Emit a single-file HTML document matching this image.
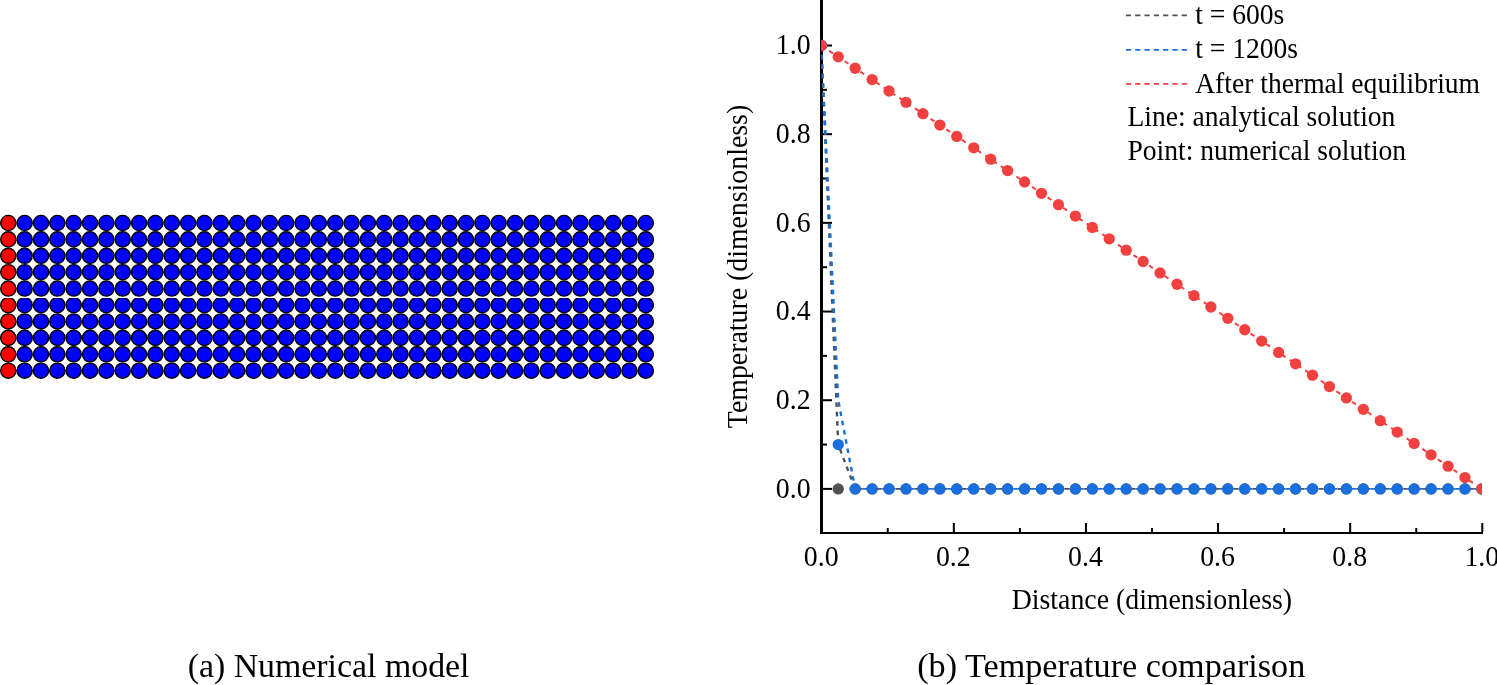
<!DOCTYPE html>
<html lang="en"><head><meta charset="utf-8"><title>Figure</title>
<style>html,body{margin:0;padding:0;background:#fff}svg{display:block}text{font-family:"Liberation Serif","Times New Roman",serif;fill:#000}</style>
</head><body>
<svg width="1497" height="685" viewBox="0 0 1497 685">
<rect width="1497" height="685" fill="#fff"/>
<g stroke="#000" stroke-width="1.4">
<circle cx="8.30" cy="223.00" r="7.6" fill="#ff0000"/>
<circle cx="24.65" cy="223.00" r="7.6" fill="#0000ff"/>
<circle cx="40.99" cy="223.00" r="7.6" fill="#0000ff"/>
<circle cx="57.34" cy="223.00" r="7.6" fill="#0000ff"/>
<circle cx="73.68" cy="223.00" r="7.6" fill="#0000ff"/>
<circle cx="90.03" cy="223.00" r="7.6" fill="#0000ff"/>
<circle cx="106.38" cy="223.00" r="7.6" fill="#0000ff"/>
<circle cx="122.72" cy="223.00" r="7.6" fill="#0000ff"/>
<circle cx="139.07" cy="223.00" r="7.6" fill="#0000ff"/>
<circle cx="155.42" cy="223.00" r="7.6" fill="#0000ff"/>
<circle cx="171.76" cy="223.00" r="7.6" fill="#0000ff"/>
<circle cx="188.11" cy="223.00" r="7.6" fill="#0000ff"/>
<circle cx="204.45" cy="223.00" r="7.6" fill="#0000ff"/>
<circle cx="220.80" cy="223.00" r="7.6" fill="#0000ff"/>
<circle cx="237.15" cy="223.00" r="7.6" fill="#0000ff"/>
<circle cx="253.49" cy="223.00" r="7.6" fill="#0000ff"/>
<circle cx="269.84" cy="223.00" r="7.6" fill="#0000ff"/>
<circle cx="286.18" cy="223.00" r="7.6" fill="#0000ff"/>
<circle cx="302.53" cy="223.00" r="7.6" fill="#0000ff"/>
<circle cx="318.88" cy="223.00" r="7.6" fill="#0000ff"/>
<circle cx="335.22" cy="223.00" r="7.6" fill="#0000ff"/>
<circle cx="351.57" cy="223.00" r="7.6" fill="#0000ff"/>
<circle cx="367.92" cy="223.00" r="7.6" fill="#0000ff"/>
<circle cx="384.26" cy="223.00" r="7.6" fill="#0000ff"/>
<circle cx="400.61" cy="223.00" r="7.6" fill="#0000ff"/>
<circle cx="416.95" cy="223.00" r="7.6" fill="#0000ff"/>
<circle cx="433.30" cy="223.00" r="7.6" fill="#0000ff"/>
<circle cx="449.65" cy="223.00" r="7.6" fill="#0000ff"/>
<circle cx="465.99" cy="223.00" r="7.6" fill="#0000ff"/>
<circle cx="482.34" cy="223.00" r="7.6" fill="#0000ff"/>
<circle cx="498.68" cy="223.00" r="7.6" fill="#0000ff"/>
<circle cx="515.03" cy="223.00" r="7.6" fill="#0000ff"/>
<circle cx="531.38" cy="223.00" r="7.6" fill="#0000ff"/>
<circle cx="547.72" cy="223.00" r="7.6" fill="#0000ff"/>
<circle cx="564.07" cy="223.00" r="7.6" fill="#0000ff"/>
<circle cx="580.42" cy="223.00" r="7.6" fill="#0000ff"/>
<circle cx="596.76" cy="223.00" r="7.6" fill="#0000ff"/>
<circle cx="613.11" cy="223.00" r="7.6" fill="#0000ff"/>
<circle cx="629.45" cy="223.00" r="7.6" fill="#0000ff"/>
<circle cx="645.80" cy="223.00" r="7.6" fill="#0000ff"/>
<circle cx="8.30" cy="239.41" r="7.6" fill="#ff0000"/>
<circle cx="24.65" cy="239.41" r="7.6" fill="#0000ff"/>
<circle cx="40.99" cy="239.41" r="7.6" fill="#0000ff"/>
<circle cx="57.34" cy="239.41" r="7.6" fill="#0000ff"/>
<circle cx="73.68" cy="239.41" r="7.6" fill="#0000ff"/>
<circle cx="90.03" cy="239.41" r="7.6" fill="#0000ff"/>
<circle cx="106.38" cy="239.41" r="7.6" fill="#0000ff"/>
<circle cx="122.72" cy="239.41" r="7.6" fill="#0000ff"/>
<circle cx="139.07" cy="239.41" r="7.6" fill="#0000ff"/>
<circle cx="155.42" cy="239.41" r="7.6" fill="#0000ff"/>
<circle cx="171.76" cy="239.41" r="7.6" fill="#0000ff"/>
<circle cx="188.11" cy="239.41" r="7.6" fill="#0000ff"/>
<circle cx="204.45" cy="239.41" r="7.6" fill="#0000ff"/>
<circle cx="220.80" cy="239.41" r="7.6" fill="#0000ff"/>
<circle cx="237.15" cy="239.41" r="7.6" fill="#0000ff"/>
<circle cx="253.49" cy="239.41" r="7.6" fill="#0000ff"/>
<circle cx="269.84" cy="239.41" r="7.6" fill="#0000ff"/>
<circle cx="286.18" cy="239.41" r="7.6" fill="#0000ff"/>
<circle cx="302.53" cy="239.41" r="7.6" fill="#0000ff"/>
<circle cx="318.88" cy="239.41" r="7.6" fill="#0000ff"/>
<circle cx="335.22" cy="239.41" r="7.6" fill="#0000ff"/>
<circle cx="351.57" cy="239.41" r="7.6" fill="#0000ff"/>
<circle cx="367.92" cy="239.41" r="7.6" fill="#0000ff"/>
<circle cx="384.26" cy="239.41" r="7.6" fill="#0000ff"/>
<circle cx="400.61" cy="239.41" r="7.6" fill="#0000ff"/>
<circle cx="416.95" cy="239.41" r="7.6" fill="#0000ff"/>
<circle cx="433.30" cy="239.41" r="7.6" fill="#0000ff"/>
<circle cx="449.65" cy="239.41" r="7.6" fill="#0000ff"/>
<circle cx="465.99" cy="239.41" r="7.6" fill="#0000ff"/>
<circle cx="482.34" cy="239.41" r="7.6" fill="#0000ff"/>
<circle cx="498.68" cy="239.41" r="7.6" fill="#0000ff"/>
<circle cx="515.03" cy="239.41" r="7.6" fill="#0000ff"/>
<circle cx="531.38" cy="239.41" r="7.6" fill="#0000ff"/>
<circle cx="547.72" cy="239.41" r="7.6" fill="#0000ff"/>
<circle cx="564.07" cy="239.41" r="7.6" fill="#0000ff"/>
<circle cx="580.42" cy="239.41" r="7.6" fill="#0000ff"/>
<circle cx="596.76" cy="239.41" r="7.6" fill="#0000ff"/>
<circle cx="613.11" cy="239.41" r="7.6" fill="#0000ff"/>
<circle cx="629.45" cy="239.41" r="7.6" fill="#0000ff"/>
<circle cx="645.80" cy="239.41" r="7.6" fill="#0000ff"/>
<circle cx="8.30" cy="255.82" r="7.6" fill="#ff0000"/>
<circle cx="24.65" cy="255.82" r="7.6" fill="#0000ff"/>
<circle cx="40.99" cy="255.82" r="7.6" fill="#0000ff"/>
<circle cx="57.34" cy="255.82" r="7.6" fill="#0000ff"/>
<circle cx="73.68" cy="255.82" r="7.6" fill="#0000ff"/>
<circle cx="90.03" cy="255.82" r="7.6" fill="#0000ff"/>
<circle cx="106.38" cy="255.82" r="7.6" fill="#0000ff"/>
<circle cx="122.72" cy="255.82" r="7.6" fill="#0000ff"/>
<circle cx="139.07" cy="255.82" r="7.6" fill="#0000ff"/>
<circle cx="155.42" cy="255.82" r="7.6" fill="#0000ff"/>
<circle cx="171.76" cy="255.82" r="7.6" fill="#0000ff"/>
<circle cx="188.11" cy="255.82" r="7.6" fill="#0000ff"/>
<circle cx="204.45" cy="255.82" r="7.6" fill="#0000ff"/>
<circle cx="220.80" cy="255.82" r="7.6" fill="#0000ff"/>
<circle cx="237.15" cy="255.82" r="7.6" fill="#0000ff"/>
<circle cx="253.49" cy="255.82" r="7.6" fill="#0000ff"/>
<circle cx="269.84" cy="255.82" r="7.6" fill="#0000ff"/>
<circle cx="286.18" cy="255.82" r="7.6" fill="#0000ff"/>
<circle cx="302.53" cy="255.82" r="7.6" fill="#0000ff"/>
<circle cx="318.88" cy="255.82" r="7.6" fill="#0000ff"/>
<circle cx="335.22" cy="255.82" r="7.6" fill="#0000ff"/>
<circle cx="351.57" cy="255.82" r="7.6" fill="#0000ff"/>
<circle cx="367.92" cy="255.82" r="7.6" fill="#0000ff"/>
<circle cx="384.26" cy="255.82" r="7.6" fill="#0000ff"/>
<circle cx="400.61" cy="255.82" r="7.6" fill="#0000ff"/>
<circle cx="416.95" cy="255.82" r="7.6" fill="#0000ff"/>
<circle cx="433.30" cy="255.82" r="7.6" fill="#0000ff"/>
<circle cx="449.65" cy="255.82" r="7.6" fill="#0000ff"/>
<circle cx="465.99" cy="255.82" r="7.6" fill="#0000ff"/>
<circle cx="482.34" cy="255.82" r="7.6" fill="#0000ff"/>
<circle cx="498.68" cy="255.82" r="7.6" fill="#0000ff"/>
<circle cx="515.03" cy="255.82" r="7.6" fill="#0000ff"/>
<circle cx="531.38" cy="255.82" r="7.6" fill="#0000ff"/>
<circle cx="547.72" cy="255.82" r="7.6" fill="#0000ff"/>
<circle cx="564.07" cy="255.82" r="7.6" fill="#0000ff"/>
<circle cx="580.42" cy="255.82" r="7.6" fill="#0000ff"/>
<circle cx="596.76" cy="255.82" r="7.6" fill="#0000ff"/>
<circle cx="613.11" cy="255.82" r="7.6" fill="#0000ff"/>
<circle cx="629.45" cy="255.82" r="7.6" fill="#0000ff"/>
<circle cx="645.80" cy="255.82" r="7.6" fill="#0000ff"/>
<circle cx="8.30" cy="272.23" r="7.6" fill="#ff0000"/>
<circle cx="24.65" cy="272.23" r="7.6" fill="#0000ff"/>
<circle cx="40.99" cy="272.23" r="7.6" fill="#0000ff"/>
<circle cx="57.34" cy="272.23" r="7.6" fill="#0000ff"/>
<circle cx="73.68" cy="272.23" r="7.6" fill="#0000ff"/>
<circle cx="90.03" cy="272.23" r="7.6" fill="#0000ff"/>
<circle cx="106.38" cy="272.23" r="7.6" fill="#0000ff"/>
<circle cx="122.72" cy="272.23" r="7.6" fill="#0000ff"/>
<circle cx="139.07" cy="272.23" r="7.6" fill="#0000ff"/>
<circle cx="155.42" cy="272.23" r="7.6" fill="#0000ff"/>
<circle cx="171.76" cy="272.23" r="7.6" fill="#0000ff"/>
<circle cx="188.11" cy="272.23" r="7.6" fill="#0000ff"/>
<circle cx="204.45" cy="272.23" r="7.6" fill="#0000ff"/>
<circle cx="220.80" cy="272.23" r="7.6" fill="#0000ff"/>
<circle cx="237.15" cy="272.23" r="7.6" fill="#0000ff"/>
<circle cx="253.49" cy="272.23" r="7.6" fill="#0000ff"/>
<circle cx="269.84" cy="272.23" r="7.6" fill="#0000ff"/>
<circle cx="286.18" cy="272.23" r="7.6" fill="#0000ff"/>
<circle cx="302.53" cy="272.23" r="7.6" fill="#0000ff"/>
<circle cx="318.88" cy="272.23" r="7.6" fill="#0000ff"/>
<circle cx="335.22" cy="272.23" r="7.6" fill="#0000ff"/>
<circle cx="351.57" cy="272.23" r="7.6" fill="#0000ff"/>
<circle cx="367.92" cy="272.23" r="7.6" fill="#0000ff"/>
<circle cx="384.26" cy="272.23" r="7.6" fill="#0000ff"/>
<circle cx="400.61" cy="272.23" r="7.6" fill="#0000ff"/>
<circle cx="416.95" cy="272.23" r="7.6" fill="#0000ff"/>
<circle cx="433.30" cy="272.23" r="7.6" fill="#0000ff"/>
<circle cx="449.65" cy="272.23" r="7.6" fill="#0000ff"/>
<circle cx="465.99" cy="272.23" r="7.6" fill="#0000ff"/>
<circle cx="482.34" cy="272.23" r="7.6" fill="#0000ff"/>
<circle cx="498.68" cy="272.23" r="7.6" fill="#0000ff"/>
<circle cx="515.03" cy="272.23" r="7.6" fill="#0000ff"/>
<circle cx="531.38" cy="272.23" r="7.6" fill="#0000ff"/>
<circle cx="547.72" cy="272.23" r="7.6" fill="#0000ff"/>
<circle cx="564.07" cy="272.23" r="7.6" fill="#0000ff"/>
<circle cx="580.42" cy="272.23" r="7.6" fill="#0000ff"/>
<circle cx="596.76" cy="272.23" r="7.6" fill="#0000ff"/>
<circle cx="613.11" cy="272.23" r="7.6" fill="#0000ff"/>
<circle cx="629.45" cy="272.23" r="7.6" fill="#0000ff"/>
<circle cx="645.80" cy="272.23" r="7.6" fill="#0000ff"/>
<circle cx="8.30" cy="288.64" r="7.6" fill="#ff0000"/>
<circle cx="24.65" cy="288.64" r="7.6" fill="#0000ff"/>
<circle cx="40.99" cy="288.64" r="7.6" fill="#0000ff"/>
<circle cx="57.34" cy="288.64" r="7.6" fill="#0000ff"/>
<circle cx="73.68" cy="288.64" r="7.6" fill="#0000ff"/>
<circle cx="90.03" cy="288.64" r="7.6" fill="#0000ff"/>
<circle cx="106.38" cy="288.64" r="7.6" fill="#0000ff"/>
<circle cx="122.72" cy="288.64" r="7.6" fill="#0000ff"/>
<circle cx="139.07" cy="288.64" r="7.6" fill="#0000ff"/>
<circle cx="155.42" cy="288.64" r="7.6" fill="#0000ff"/>
<circle cx="171.76" cy="288.64" r="7.6" fill="#0000ff"/>
<circle cx="188.11" cy="288.64" r="7.6" fill="#0000ff"/>
<circle cx="204.45" cy="288.64" r="7.6" fill="#0000ff"/>
<circle cx="220.80" cy="288.64" r="7.6" fill="#0000ff"/>
<circle cx="237.15" cy="288.64" r="7.6" fill="#0000ff"/>
<circle cx="253.49" cy="288.64" r="7.6" fill="#0000ff"/>
<circle cx="269.84" cy="288.64" r="7.6" fill="#0000ff"/>
<circle cx="286.18" cy="288.64" r="7.6" fill="#0000ff"/>
<circle cx="302.53" cy="288.64" r="7.6" fill="#0000ff"/>
<circle cx="318.88" cy="288.64" r="7.6" fill="#0000ff"/>
<circle cx="335.22" cy="288.64" r="7.6" fill="#0000ff"/>
<circle cx="351.57" cy="288.64" r="7.6" fill="#0000ff"/>
<circle cx="367.92" cy="288.64" r="7.6" fill="#0000ff"/>
<circle cx="384.26" cy="288.64" r="7.6" fill="#0000ff"/>
<circle cx="400.61" cy="288.64" r="7.6" fill="#0000ff"/>
<circle cx="416.95" cy="288.64" r="7.6" fill="#0000ff"/>
<circle cx="433.30" cy="288.64" r="7.6" fill="#0000ff"/>
<circle cx="449.65" cy="288.64" r="7.6" fill="#0000ff"/>
<circle cx="465.99" cy="288.64" r="7.6" fill="#0000ff"/>
<circle cx="482.34" cy="288.64" r="7.6" fill="#0000ff"/>
<circle cx="498.68" cy="288.64" r="7.6" fill="#0000ff"/>
<circle cx="515.03" cy="288.64" r="7.6" fill="#0000ff"/>
<circle cx="531.38" cy="288.64" r="7.6" fill="#0000ff"/>
<circle cx="547.72" cy="288.64" r="7.6" fill="#0000ff"/>
<circle cx="564.07" cy="288.64" r="7.6" fill="#0000ff"/>
<circle cx="580.42" cy="288.64" r="7.6" fill="#0000ff"/>
<circle cx="596.76" cy="288.64" r="7.6" fill="#0000ff"/>
<circle cx="613.11" cy="288.64" r="7.6" fill="#0000ff"/>
<circle cx="629.45" cy="288.64" r="7.6" fill="#0000ff"/>
<circle cx="645.80" cy="288.64" r="7.6" fill="#0000ff"/>
<circle cx="8.30" cy="305.06" r="7.6" fill="#ff0000"/>
<circle cx="24.65" cy="305.06" r="7.6" fill="#0000ff"/>
<circle cx="40.99" cy="305.06" r="7.6" fill="#0000ff"/>
<circle cx="57.34" cy="305.06" r="7.6" fill="#0000ff"/>
<circle cx="73.68" cy="305.06" r="7.6" fill="#0000ff"/>
<circle cx="90.03" cy="305.06" r="7.6" fill="#0000ff"/>
<circle cx="106.38" cy="305.06" r="7.6" fill="#0000ff"/>
<circle cx="122.72" cy="305.06" r="7.6" fill="#0000ff"/>
<circle cx="139.07" cy="305.06" r="7.6" fill="#0000ff"/>
<circle cx="155.42" cy="305.06" r="7.6" fill="#0000ff"/>
<circle cx="171.76" cy="305.06" r="7.6" fill="#0000ff"/>
<circle cx="188.11" cy="305.06" r="7.6" fill="#0000ff"/>
<circle cx="204.45" cy="305.06" r="7.6" fill="#0000ff"/>
<circle cx="220.80" cy="305.06" r="7.6" fill="#0000ff"/>
<circle cx="237.15" cy="305.06" r="7.6" fill="#0000ff"/>
<circle cx="253.49" cy="305.06" r="7.6" fill="#0000ff"/>
<circle cx="269.84" cy="305.06" r="7.6" fill="#0000ff"/>
<circle cx="286.18" cy="305.06" r="7.6" fill="#0000ff"/>
<circle cx="302.53" cy="305.06" r="7.6" fill="#0000ff"/>
<circle cx="318.88" cy="305.06" r="7.6" fill="#0000ff"/>
<circle cx="335.22" cy="305.06" r="7.6" fill="#0000ff"/>
<circle cx="351.57" cy="305.06" r="7.6" fill="#0000ff"/>
<circle cx="367.92" cy="305.06" r="7.6" fill="#0000ff"/>
<circle cx="384.26" cy="305.06" r="7.6" fill="#0000ff"/>
<circle cx="400.61" cy="305.06" r="7.6" fill="#0000ff"/>
<circle cx="416.95" cy="305.06" r="7.6" fill="#0000ff"/>
<circle cx="433.30" cy="305.06" r="7.6" fill="#0000ff"/>
<circle cx="449.65" cy="305.06" r="7.6" fill="#0000ff"/>
<circle cx="465.99" cy="305.06" r="7.6" fill="#0000ff"/>
<circle cx="482.34" cy="305.06" r="7.6" fill="#0000ff"/>
<circle cx="498.68" cy="305.06" r="7.6" fill="#0000ff"/>
<circle cx="515.03" cy="305.06" r="7.6" fill="#0000ff"/>
<circle cx="531.38" cy="305.06" r="7.6" fill="#0000ff"/>
<circle cx="547.72" cy="305.06" r="7.6" fill="#0000ff"/>
<circle cx="564.07" cy="305.06" r="7.6" fill="#0000ff"/>
<circle cx="580.42" cy="305.06" r="7.6" fill="#0000ff"/>
<circle cx="596.76" cy="305.06" r="7.6" fill="#0000ff"/>
<circle cx="613.11" cy="305.06" r="7.6" fill="#0000ff"/>
<circle cx="629.45" cy="305.06" r="7.6" fill="#0000ff"/>
<circle cx="645.80" cy="305.06" r="7.6" fill="#0000ff"/>
<circle cx="8.30" cy="321.47" r="7.6" fill="#ff0000"/>
<circle cx="24.65" cy="321.47" r="7.6" fill="#0000ff"/>
<circle cx="40.99" cy="321.47" r="7.6" fill="#0000ff"/>
<circle cx="57.34" cy="321.47" r="7.6" fill="#0000ff"/>
<circle cx="73.68" cy="321.47" r="7.6" fill="#0000ff"/>
<circle cx="90.03" cy="321.47" r="7.6" fill="#0000ff"/>
<circle cx="106.38" cy="321.47" r="7.6" fill="#0000ff"/>
<circle cx="122.72" cy="321.47" r="7.6" fill="#0000ff"/>
<circle cx="139.07" cy="321.47" r="7.6" fill="#0000ff"/>
<circle cx="155.42" cy="321.47" r="7.6" fill="#0000ff"/>
<circle cx="171.76" cy="321.47" r="7.6" fill="#0000ff"/>
<circle cx="188.11" cy="321.47" r="7.6" fill="#0000ff"/>
<circle cx="204.45" cy="321.47" r="7.6" fill="#0000ff"/>
<circle cx="220.80" cy="321.47" r="7.6" fill="#0000ff"/>
<circle cx="237.15" cy="321.47" r="7.6" fill="#0000ff"/>
<circle cx="253.49" cy="321.47" r="7.6" fill="#0000ff"/>
<circle cx="269.84" cy="321.47" r="7.6" fill="#0000ff"/>
<circle cx="286.18" cy="321.47" r="7.6" fill="#0000ff"/>
<circle cx="302.53" cy="321.47" r="7.6" fill="#0000ff"/>
<circle cx="318.88" cy="321.47" r="7.6" fill="#0000ff"/>
<circle cx="335.22" cy="321.47" r="7.6" fill="#0000ff"/>
<circle cx="351.57" cy="321.47" r="7.6" fill="#0000ff"/>
<circle cx="367.92" cy="321.47" r="7.6" fill="#0000ff"/>
<circle cx="384.26" cy="321.47" r="7.6" fill="#0000ff"/>
<circle cx="400.61" cy="321.47" r="7.6" fill="#0000ff"/>
<circle cx="416.95" cy="321.47" r="7.6" fill="#0000ff"/>
<circle cx="433.30" cy="321.47" r="7.6" fill="#0000ff"/>
<circle cx="449.65" cy="321.47" r="7.6" fill="#0000ff"/>
<circle cx="465.99" cy="321.47" r="7.6" fill="#0000ff"/>
<circle cx="482.34" cy="321.47" r="7.6" fill="#0000ff"/>
<circle cx="498.68" cy="321.47" r="7.6" fill="#0000ff"/>
<circle cx="515.03" cy="321.47" r="7.6" fill="#0000ff"/>
<circle cx="531.38" cy="321.47" r="7.6" fill="#0000ff"/>
<circle cx="547.72" cy="321.47" r="7.6" fill="#0000ff"/>
<circle cx="564.07" cy="321.47" r="7.6" fill="#0000ff"/>
<circle cx="580.42" cy="321.47" r="7.6" fill="#0000ff"/>
<circle cx="596.76" cy="321.47" r="7.6" fill="#0000ff"/>
<circle cx="613.11" cy="321.47" r="7.6" fill="#0000ff"/>
<circle cx="629.45" cy="321.47" r="7.6" fill="#0000ff"/>
<circle cx="645.80" cy="321.47" r="7.6" fill="#0000ff"/>
<circle cx="8.30" cy="337.88" r="7.6" fill="#ff0000"/>
<circle cx="24.65" cy="337.88" r="7.6" fill="#0000ff"/>
<circle cx="40.99" cy="337.88" r="7.6" fill="#0000ff"/>
<circle cx="57.34" cy="337.88" r="7.6" fill="#0000ff"/>
<circle cx="73.68" cy="337.88" r="7.6" fill="#0000ff"/>
<circle cx="90.03" cy="337.88" r="7.6" fill="#0000ff"/>
<circle cx="106.38" cy="337.88" r="7.6" fill="#0000ff"/>
<circle cx="122.72" cy="337.88" r="7.6" fill="#0000ff"/>
<circle cx="139.07" cy="337.88" r="7.6" fill="#0000ff"/>
<circle cx="155.42" cy="337.88" r="7.6" fill="#0000ff"/>
<circle cx="171.76" cy="337.88" r="7.6" fill="#0000ff"/>
<circle cx="188.11" cy="337.88" r="7.6" fill="#0000ff"/>
<circle cx="204.45" cy="337.88" r="7.6" fill="#0000ff"/>
<circle cx="220.80" cy="337.88" r="7.6" fill="#0000ff"/>
<circle cx="237.15" cy="337.88" r="7.6" fill="#0000ff"/>
<circle cx="253.49" cy="337.88" r="7.6" fill="#0000ff"/>
<circle cx="269.84" cy="337.88" r="7.6" fill="#0000ff"/>
<circle cx="286.18" cy="337.88" r="7.6" fill="#0000ff"/>
<circle cx="302.53" cy="337.88" r="7.6" fill="#0000ff"/>
<circle cx="318.88" cy="337.88" r="7.6" fill="#0000ff"/>
<circle cx="335.22" cy="337.88" r="7.6" fill="#0000ff"/>
<circle cx="351.57" cy="337.88" r="7.6" fill="#0000ff"/>
<circle cx="367.92" cy="337.88" r="7.6" fill="#0000ff"/>
<circle cx="384.26" cy="337.88" r="7.6" fill="#0000ff"/>
<circle cx="400.61" cy="337.88" r="7.6" fill="#0000ff"/>
<circle cx="416.95" cy="337.88" r="7.6" fill="#0000ff"/>
<circle cx="433.30" cy="337.88" r="7.6" fill="#0000ff"/>
<circle cx="449.65" cy="337.88" r="7.6" fill="#0000ff"/>
<circle cx="465.99" cy="337.88" r="7.6" fill="#0000ff"/>
<circle cx="482.34" cy="337.88" r="7.6" fill="#0000ff"/>
<circle cx="498.68" cy="337.88" r="7.6" fill="#0000ff"/>
<circle cx="515.03" cy="337.88" r="7.6" fill="#0000ff"/>
<circle cx="531.38" cy="337.88" r="7.6" fill="#0000ff"/>
<circle cx="547.72" cy="337.88" r="7.6" fill="#0000ff"/>
<circle cx="564.07" cy="337.88" r="7.6" fill="#0000ff"/>
<circle cx="580.42" cy="337.88" r="7.6" fill="#0000ff"/>
<circle cx="596.76" cy="337.88" r="7.6" fill="#0000ff"/>
<circle cx="613.11" cy="337.88" r="7.6" fill="#0000ff"/>
<circle cx="629.45" cy="337.88" r="7.6" fill="#0000ff"/>
<circle cx="645.80" cy="337.88" r="7.6" fill="#0000ff"/>
<circle cx="8.30" cy="354.29" r="7.6" fill="#ff0000"/>
<circle cx="24.65" cy="354.29" r="7.6" fill="#0000ff"/>
<circle cx="40.99" cy="354.29" r="7.6" fill="#0000ff"/>
<circle cx="57.34" cy="354.29" r="7.6" fill="#0000ff"/>
<circle cx="73.68" cy="354.29" r="7.6" fill="#0000ff"/>
<circle cx="90.03" cy="354.29" r="7.6" fill="#0000ff"/>
<circle cx="106.38" cy="354.29" r="7.6" fill="#0000ff"/>
<circle cx="122.72" cy="354.29" r="7.6" fill="#0000ff"/>
<circle cx="139.07" cy="354.29" r="7.6" fill="#0000ff"/>
<circle cx="155.42" cy="354.29" r="7.6" fill="#0000ff"/>
<circle cx="171.76" cy="354.29" r="7.6" fill="#0000ff"/>
<circle cx="188.11" cy="354.29" r="7.6" fill="#0000ff"/>
<circle cx="204.45" cy="354.29" r="7.6" fill="#0000ff"/>
<circle cx="220.80" cy="354.29" r="7.6" fill="#0000ff"/>
<circle cx="237.15" cy="354.29" r="7.6" fill="#0000ff"/>
<circle cx="253.49" cy="354.29" r="7.6" fill="#0000ff"/>
<circle cx="269.84" cy="354.29" r="7.6" fill="#0000ff"/>
<circle cx="286.18" cy="354.29" r="7.6" fill="#0000ff"/>
<circle cx="302.53" cy="354.29" r="7.6" fill="#0000ff"/>
<circle cx="318.88" cy="354.29" r="7.6" fill="#0000ff"/>
<circle cx="335.22" cy="354.29" r="7.6" fill="#0000ff"/>
<circle cx="351.57" cy="354.29" r="7.6" fill="#0000ff"/>
<circle cx="367.92" cy="354.29" r="7.6" fill="#0000ff"/>
<circle cx="384.26" cy="354.29" r="7.6" fill="#0000ff"/>
<circle cx="400.61" cy="354.29" r="7.6" fill="#0000ff"/>
<circle cx="416.95" cy="354.29" r="7.6" fill="#0000ff"/>
<circle cx="433.30" cy="354.29" r="7.6" fill="#0000ff"/>
<circle cx="449.65" cy="354.29" r="7.6" fill="#0000ff"/>
<circle cx="465.99" cy="354.29" r="7.6" fill="#0000ff"/>
<circle cx="482.34" cy="354.29" r="7.6" fill="#0000ff"/>
<circle cx="498.68" cy="354.29" r="7.6" fill="#0000ff"/>
<circle cx="515.03" cy="354.29" r="7.6" fill="#0000ff"/>
<circle cx="531.38" cy="354.29" r="7.6" fill="#0000ff"/>
<circle cx="547.72" cy="354.29" r="7.6" fill="#0000ff"/>
<circle cx="564.07" cy="354.29" r="7.6" fill="#0000ff"/>
<circle cx="580.42" cy="354.29" r="7.6" fill="#0000ff"/>
<circle cx="596.76" cy="354.29" r="7.6" fill="#0000ff"/>
<circle cx="613.11" cy="354.29" r="7.6" fill="#0000ff"/>
<circle cx="629.45" cy="354.29" r="7.6" fill="#0000ff"/>
<circle cx="645.80" cy="354.29" r="7.6" fill="#0000ff"/>
<circle cx="8.30" cy="370.70" r="7.6" fill="#ff0000"/>
<circle cx="24.65" cy="370.70" r="7.6" fill="#0000ff"/>
<circle cx="40.99" cy="370.70" r="7.6" fill="#0000ff"/>
<circle cx="57.34" cy="370.70" r="7.6" fill="#0000ff"/>
<circle cx="73.68" cy="370.70" r="7.6" fill="#0000ff"/>
<circle cx="90.03" cy="370.70" r="7.6" fill="#0000ff"/>
<circle cx="106.38" cy="370.70" r="7.6" fill="#0000ff"/>
<circle cx="122.72" cy="370.70" r="7.6" fill="#0000ff"/>
<circle cx="139.07" cy="370.70" r="7.6" fill="#0000ff"/>
<circle cx="155.42" cy="370.70" r="7.6" fill="#0000ff"/>
<circle cx="171.76" cy="370.70" r="7.6" fill="#0000ff"/>
<circle cx="188.11" cy="370.70" r="7.6" fill="#0000ff"/>
<circle cx="204.45" cy="370.70" r="7.6" fill="#0000ff"/>
<circle cx="220.80" cy="370.70" r="7.6" fill="#0000ff"/>
<circle cx="237.15" cy="370.70" r="7.6" fill="#0000ff"/>
<circle cx="253.49" cy="370.70" r="7.6" fill="#0000ff"/>
<circle cx="269.84" cy="370.70" r="7.6" fill="#0000ff"/>
<circle cx="286.18" cy="370.70" r="7.6" fill="#0000ff"/>
<circle cx="302.53" cy="370.70" r="7.6" fill="#0000ff"/>
<circle cx="318.88" cy="370.70" r="7.6" fill="#0000ff"/>
<circle cx="335.22" cy="370.70" r="7.6" fill="#0000ff"/>
<circle cx="351.57" cy="370.70" r="7.6" fill="#0000ff"/>
<circle cx="367.92" cy="370.70" r="7.6" fill="#0000ff"/>
<circle cx="384.26" cy="370.70" r="7.6" fill="#0000ff"/>
<circle cx="400.61" cy="370.70" r="7.6" fill="#0000ff"/>
<circle cx="416.95" cy="370.70" r="7.6" fill="#0000ff"/>
<circle cx="433.30" cy="370.70" r="7.6" fill="#0000ff"/>
<circle cx="449.65" cy="370.70" r="7.6" fill="#0000ff"/>
<circle cx="465.99" cy="370.70" r="7.6" fill="#0000ff"/>
<circle cx="482.34" cy="370.70" r="7.6" fill="#0000ff"/>
<circle cx="498.68" cy="370.70" r="7.6" fill="#0000ff"/>
<circle cx="515.03" cy="370.70" r="7.6" fill="#0000ff"/>
<circle cx="531.38" cy="370.70" r="7.6" fill="#0000ff"/>
<circle cx="547.72" cy="370.70" r="7.6" fill="#0000ff"/>
<circle cx="564.07" cy="370.70" r="7.6" fill="#0000ff"/>
<circle cx="580.42" cy="370.70" r="7.6" fill="#0000ff"/>
<circle cx="596.76" cy="370.70" r="7.6" fill="#0000ff"/>
<circle cx="613.11" cy="370.70" r="7.6" fill="#0000ff"/>
<circle cx="629.45" cy="370.70" r="7.6" fill="#0000ff"/>
<circle cx="645.80" cy="370.70" r="7.6" fill="#0000ff"/>
</g>
<line x1="0" x2="654" y1="297.3" y2="297.3" stroke="#fff" stroke-width="1.3"/>
<text x="187.7" y="677" font-size="33.85">(a) Numerical model</text>
<g fill="#000" shape-rendering="crispEdges">
<rect x="820" y="0" width="3" height="534"/>
<rect x="820" y="532" width="663" height="2"/>
<rect x="823" y="487.90" width="9" height="2" shape-rendering="auto"/>
<rect x="823" y="443.56" width="4" height="2" shape-rendering="auto"/>
<rect x="886.76" y="528" width="2" height="4" shape-rendering="auto"/>
<rect x="823" y="399.22" width="9" height="2" shape-rendering="auto"/>
<rect x="952.82" y="523" width="2" height="9" shape-rendering="auto"/>
<rect x="823" y="354.88" width="4" height="2" shape-rendering="auto"/>
<rect x="1018.88" y="528" width="2" height="4" shape-rendering="auto"/>
<rect x="823" y="310.54" width="9" height="2" shape-rendering="auto"/>
<rect x="1084.94" y="523" width="2" height="9" shape-rendering="auto"/>
<rect x="823" y="266.20" width="4" height="2" shape-rendering="auto"/>
<rect x="1151.00" y="528" width="2" height="4" shape-rendering="auto"/>
<rect x="823" y="221.86" width="9" height="2" shape-rendering="auto"/>
<rect x="1217.06" y="523" width="2" height="9" shape-rendering="auto"/>
<rect x="823" y="177.52" width="4" height="2" shape-rendering="auto"/>
<rect x="1283.12" y="528" width="2" height="4" shape-rendering="auto"/>
<rect x="823" y="133.18" width="9" height="2" shape-rendering="auto"/>
<rect x="1349.18" y="523" width="2" height="9" shape-rendering="auto"/>
<rect x="823" y="88.84" width="4" height="2" shape-rendering="auto"/>
<rect x="1415.24" y="528" width="2" height="4" shape-rendering="auto"/>
<rect x="823" y="44.50" width="9" height="2" shape-rendering="auto"/>
<rect x="1481.30" y="523" width="2" height="9" shape-rendering="auto"/>
</g>
<g font-size="29.6">
<text transform="translate(810.6 497.60) scale(0.94 1)" text-anchor="end">0.0</text>
<text transform="translate(821.20 565.8) scale(0.94 1)" text-anchor="middle">0.0</text>
<text transform="translate(810.6 408.92) scale(0.94 1)" text-anchor="end">0.2</text>
<text transform="translate(953.32 565.8) scale(0.94 1)" text-anchor="middle">0.2</text>
<text transform="translate(810.6 320.24) scale(0.94 1)" text-anchor="end">0.4</text>
<text transform="translate(1085.44 565.8) scale(0.94 1)" text-anchor="middle">0.4</text>
<text transform="translate(810.6 231.56) scale(0.94 1)" text-anchor="end">0.6</text>
<text transform="translate(1217.56 565.8) scale(0.94 1)" text-anchor="middle">0.6</text>
<text transform="translate(810.6 142.88) scale(0.94 1)" text-anchor="end">0.8</text>
<text transform="translate(1349.68 565.8) scale(0.94 1)" text-anchor="middle">0.8</text>
<text transform="translate(810.6 54.20) scale(0.94 1)" text-anchor="end">1.0</text>
<text transform="translate(1481.80 565.8) scale(0.94 1)" text-anchor="middle">1.0</text>
<text transform="translate(1151.9 609) scale(0.96 1)" font-size="29" text-anchor="middle">Distance (dimensionless)</text>
<text transform="translate(747.2 266.5) rotate(-90) scale(0.96 1)" font-size="29" text-anchor="middle">Temperature (dimensionless)</text>
</g>
<clipPath id="pc"><rect x="821.30" y="0" width="660.60" height="533.24"/></clipPath>
<g clip-path="url(#pc)">
<path d="M821.30 45.50L838.24 444.56L855.18 488.90" fill="none" stroke="#515151" stroke-width="2.4" stroke-dasharray="4.6 4.8" stroke-dashoffset="0"/>
<path d="M855.18 488.90L872.12 488.90L889.05 488.90L905.99 488.90L922.93 488.90L939.87 488.90L956.81 488.90L973.75 488.90L990.68 488.90L1007.62 488.90L1024.56 488.90L1041.50 488.90L1058.44 488.90L1075.38 488.90L1092.32 488.90L1109.25 488.90L1126.19 488.90L1143.13 488.90L1160.07 488.90L1177.01 488.90L1193.95 488.90L1210.88 488.90L1227.82 488.90L1244.76 488.90L1261.70 488.90L1278.64 488.90L1295.58 488.90L1312.52 488.90L1329.45 488.90L1346.39 488.90L1363.33 488.90L1380.27 488.90L1397.21 488.90L1414.15 488.90L1431.08 488.90L1448.02 488.90L1464.96 488.90L1481.90 488.90" fill="none" stroke="#515151" stroke-width="1.9" stroke-dasharray="4.6 4.8" stroke-dashoffset="6.5"/>
<g fill="#515151">
<circle cx="821.30" cy="45.50" r="5.65"/>
<circle cx="838.24" cy="488.90" r="5.65"/>
<circle cx="855.18" cy="488.90" r="5.65"/>
<circle cx="872.12" cy="488.90" r="5.65"/>
<circle cx="889.05" cy="488.90" r="5.65"/>
<circle cx="905.99" cy="488.90" r="5.65"/>
<circle cx="922.93" cy="488.90" r="5.65"/>
<circle cx="939.87" cy="488.90" r="5.65"/>
<circle cx="956.81" cy="488.90" r="5.65"/>
<circle cx="973.75" cy="488.90" r="5.65"/>
<circle cx="990.68" cy="488.90" r="5.65"/>
<circle cx="1007.62" cy="488.90" r="5.65"/>
<circle cx="1024.56" cy="488.90" r="5.65"/>
<circle cx="1041.50" cy="488.90" r="5.65"/>
<circle cx="1058.44" cy="488.90" r="5.65"/>
<circle cx="1075.38" cy="488.90" r="5.65"/>
<circle cx="1092.32" cy="488.90" r="5.65"/>
<circle cx="1109.25" cy="488.90" r="5.65"/>
<circle cx="1126.19" cy="488.90" r="5.65"/>
<circle cx="1143.13" cy="488.90" r="5.65"/>
<circle cx="1160.07" cy="488.90" r="5.65"/>
<circle cx="1177.01" cy="488.90" r="5.65"/>
<circle cx="1193.95" cy="488.90" r="5.65"/>
<circle cx="1210.88" cy="488.90" r="5.65"/>
<circle cx="1227.82" cy="488.90" r="5.65"/>
<circle cx="1244.76" cy="488.90" r="5.65"/>
<circle cx="1261.70" cy="488.90" r="5.65"/>
<circle cx="1278.64" cy="488.90" r="5.65"/>
<circle cx="1295.58" cy="488.90" r="5.65"/>
<circle cx="1312.52" cy="488.90" r="5.65"/>
<circle cx="1329.45" cy="488.90" r="5.65"/>
<circle cx="1346.39" cy="488.90" r="5.65"/>
<circle cx="1363.33" cy="488.90" r="5.65"/>
<circle cx="1380.27" cy="488.90" r="5.65"/>
<circle cx="1397.21" cy="488.90" r="5.65"/>
<circle cx="1414.15" cy="488.90" r="5.65"/>
<circle cx="1431.08" cy="488.90" r="5.65"/>
<circle cx="1448.02" cy="488.90" r="5.65"/>
<circle cx="1464.96" cy="488.90" r="5.65"/>
<circle cx="1481.90" cy="488.90" r="5.65"/>
</g>
<path d="M821.30 45.50L838.24 400.22L855.18 488.90" fill="none" stroke="#1a6fdf" stroke-width="2.4" stroke-dasharray="4.6 4.8" stroke-dashoffset="0"/>
<path d="M855.18 488.90L872.12 488.90L889.05 488.90L905.99 488.90L922.93 488.90L939.87 488.90L956.81 488.90L973.75 488.90L990.68 488.90L1007.62 488.90L1024.56 488.90L1041.50 488.90L1058.44 488.90L1075.38 488.90L1092.32 488.90L1109.25 488.90L1126.19 488.90L1143.13 488.90L1160.07 488.90L1177.01 488.90L1193.95 488.90L1210.88 488.90L1227.82 488.90L1244.76 488.90L1261.70 488.90L1278.64 488.90L1295.58 488.90L1312.52 488.90L1329.45 488.90L1346.39 488.90L1363.33 488.90L1380.27 488.90L1397.21 488.90L1414.15 488.90L1431.08 488.90L1448.02 488.90L1464.96 488.90L1481.90 488.90" fill="none" stroke="#1a6fdf" stroke-width="1.9" stroke-dasharray="4.6 4.8" stroke-dashoffset="1.8"/>
<g fill="#1a6fdf">
<circle cx="821.30" cy="45.50" r="5.65"/>
<circle cx="838.24" cy="444.56" r="5.65"/>
<circle cx="855.18" cy="488.90" r="5.65"/>
<circle cx="872.12" cy="488.90" r="5.65"/>
<circle cx="889.05" cy="488.90" r="5.65"/>
<circle cx="905.99" cy="488.90" r="5.65"/>
<circle cx="922.93" cy="488.90" r="5.65"/>
<circle cx="939.87" cy="488.90" r="5.65"/>
<circle cx="956.81" cy="488.90" r="5.65"/>
<circle cx="973.75" cy="488.90" r="5.65"/>
<circle cx="990.68" cy="488.90" r="5.65"/>
<circle cx="1007.62" cy="488.90" r="5.65"/>
<circle cx="1024.56" cy="488.90" r="5.65"/>
<circle cx="1041.50" cy="488.90" r="5.65"/>
<circle cx="1058.44" cy="488.90" r="5.65"/>
<circle cx="1075.38" cy="488.90" r="5.65"/>
<circle cx="1092.32" cy="488.90" r="5.65"/>
<circle cx="1109.25" cy="488.90" r="5.65"/>
<circle cx="1126.19" cy="488.90" r="5.65"/>
<circle cx="1143.13" cy="488.90" r="5.65"/>
<circle cx="1160.07" cy="488.90" r="5.65"/>
<circle cx="1177.01" cy="488.90" r="5.65"/>
<circle cx="1193.95" cy="488.90" r="5.65"/>
<circle cx="1210.88" cy="488.90" r="5.65"/>
<circle cx="1227.82" cy="488.90" r="5.65"/>
<circle cx="1244.76" cy="488.90" r="5.65"/>
<circle cx="1261.70" cy="488.90" r="5.65"/>
<circle cx="1278.64" cy="488.90" r="5.65"/>
<circle cx="1295.58" cy="488.90" r="5.65"/>
<circle cx="1312.52" cy="488.90" r="5.65"/>
<circle cx="1329.45" cy="488.90" r="5.65"/>
<circle cx="1346.39" cy="488.90" r="5.65"/>
<circle cx="1363.33" cy="488.90" r="5.65"/>
<circle cx="1380.27" cy="488.90" r="5.65"/>
<circle cx="1397.21" cy="488.90" r="5.65"/>
<circle cx="1414.15" cy="488.90" r="5.65"/>
<circle cx="1431.08" cy="488.90" r="5.65"/>
<circle cx="1448.02" cy="488.90" r="5.65"/>
<circle cx="1464.96" cy="488.90" r="5.65"/>
<circle cx="1481.90" cy="488.90" r="5.65"/>
</g>
<path d="M821.30 45.50L838.24 56.87L855.18 68.24L872.12 79.61L889.05 90.98L905.99 102.35L922.93 113.72L939.87 125.08L956.81 136.45L973.75 147.82L990.68 159.19L1007.62 170.56L1024.56 181.93L1041.50 193.30L1058.44 204.67L1075.38 216.04L1092.32 227.41L1109.25 238.78L1126.19 250.15L1143.13 261.52L1160.07 272.88L1177.01 284.25L1193.95 295.62L1210.88 306.99L1227.82 318.36L1244.76 329.73L1261.70 341.10L1278.64 352.47L1295.58 363.84L1312.52 375.21L1329.45 386.58L1346.39 397.95L1363.33 409.32L1380.27 420.68L1397.21 432.05L1414.15 443.42L1431.08 454.79L1448.02 466.16L1464.96 477.53L1481.90 488.90" fill="none" stroke="#f14040" stroke-width="2.0" stroke-dasharray="4.6 4.8" stroke-dashoffset="0"/>
<g fill="#f14040">
<circle cx="821.30" cy="45.50" r="5.65"/>
<circle cx="838.24" cy="56.87" r="5.65"/>
<circle cx="855.18" cy="68.24" r="5.65"/>
<circle cx="872.12" cy="79.61" r="5.65"/>
<circle cx="889.05" cy="90.98" r="5.65"/>
<circle cx="905.99" cy="102.35" r="5.65"/>
<circle cx="922.93" cy="113.72" r="5.65"/>
<circle cx="939.87" cy="125.08" r="5.65"/>
<circle cx="956.81" cy="136.45" r="5.65"/>
<circle cx="973.75" cy="147.82" r="5.65"/>
<circle cx="990.68" cy="159.19" r="5.65"/>
<circle cx="1007.62" cy="170.56" r="5.65"/>
<circle cx="1024.56" cy="181.93" r="5.65"/>
<circle cx="1041.50" cy="193.30" r="5.65"/>
<circle cx="1058.44" cy="204.67" r="5.65"/>
<circle cx="1075.38" cy="216.04" r="5.65"/>
<circle cx="1092.32" cy="227.41" r="5.65"/>
<circle cx="1109.25" cy="238.78" r="5.65"/>
<circle cx="1126.19" cy="250.15" r="5.65"/>
<circle cx="1143.13" cy="261.52" r="5.65"/>
<circle cx="1160.07" cy="272.88" r="5.65"/>
<circle cx="1177.01" cy="284.25" r="5.65"/>
<circle cx="1193.95" cy="295.62" r="5.65"/>
<circle cx="1210.88" cy="306.99" r="5.65"/>
<circle cx="1227.82" cy="318.36" r="5.65"/>
<circle cx="1244.76" cy="329.73" r="5.65"/>
<circle cx="1261.70" cy="341.10" r="5.65"/>
<circle cx="1278.64" cy="352.47" r="5.65"/>
<circle cx="1295.58" cy="363.84" r="5.65"/>
<circle cx="1312.52" cy="375.21" r="5.65"/>
<circle cx="1329.45" cy="386.58" r="5.65"/>
<circle cx="1346.39" cy="397.95" r="5.65"/>
<circle cx="1363.33" cy="409.32" r="5.65"/>
<circle cx="1380.27" cy="420.68" r="5.65"/>
<circle cx="1397.21" cy="432.05" r="5.65"/>
<circle cx="1414.15" cy="443.42" r="5.65"/>
<circle cx="1431.08" cy="454.79" r="5.65"/>
<circle cx="1448.02" cy="466.16" r="5.65"/>
<circle cx="1464.96" cy="477.53" r="5.65"/>
<circle cx="1481.90" cy="488.90" r="5.65"/>
</g>
</g>
<g fill="none" stroke-width="1.8" stroke-dasharray="5.2 4.1">
<line x1="1125.9" x2="1187.2" y1="15.3" y2="15.3" stroke="#515151"/>
<line x1="1125.9" x2="1187.2" y1="49.9" y2="49.9" stroke="#1a6fdf"/>
<line x1="1125.9" x2="1187.2" y1="83.9" y2="83.9" stroke="#f14040"/>
</g>
<g font-size="28.5">
<text transform="translate(1195.2 24.4) scale(0.968 1)">t = 600s</text>
<text transform="translate(1195.2 58.0) scale(0.968 1)">t = 1200s</text>
<text transform="translate(1195.2 92.7) scale(0.968 1)">After thermal equilibrium</text>
<text transform="translate(1127.4 126.3) scale(0.968 1)">Line: analytical solution</text>
<text transform="translate(1127.4 159.9) scale(0.968 1)">Point: numerical solution</text>
</g>
<text x="917.2" y="677" font-size="34.2">(b) Temperature comparison</text>
</svg>
</body></html>
